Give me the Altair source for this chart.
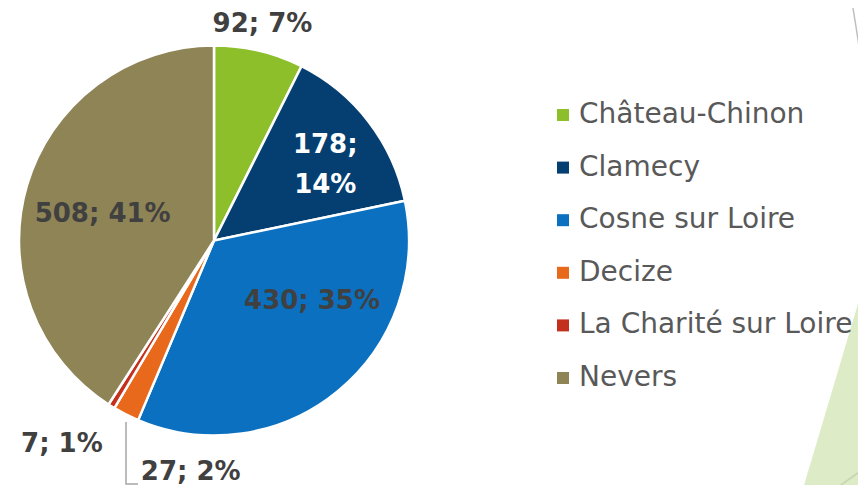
import altair as alt
import pandas as pd

categories = ["Château-Chinon", "Clamecy", "Cosne sur Loire", "Decize", "La Charité sur Loire", "Nevers"]
values = [92, 178, 430, 27, 7, 508]
colors = ["#8DBF2A", "#053F71", "#0A70BF", "#E8691C", "#C3311E", "#8F8456"]

# decorative background (slide theme) in pixel space
tri_x = [793.7, 858]
tri_y = [485, 269]
line1_x = [845, 858]
line1_y = [0, 82]
line2_x = [822, 858]
line2_y = [485, 459]
leader_x = [118, 118, 130]
leader_y = [414, 476, 476]

total = sum(values)
df = pd.DataFrame({
    "category": categories,
    "value": values,
    "idx": list(range(len(values))),
})
df["pct"] = [round(v / total * 100) for v in values]
df["label"] = [f"{v}; {p}%" for v, p in zip(df["value"], df["pct"])]

W, H = 850, 477
CX, CY = 206, 232.5

xs = alt.Scale(domain=[0, W], range=[0, W], nice=False, zero=False)
ys = alt.Scale(domain=[0, H], range=[0, H], nice=False, zero=False)

tri = alt.Chart(pd.DataFrame({"x": tri_x, "y": tri_y, "y2": [485, 485]})).mark_area(
    color="#DDEBC6", clip=True
).encode(
    x=alt.X("x:Q", scale=xs, axis=None),
    y=alt.Y("y:Q", scale=ys, axis=None),
    y2="y2:Q",
)
l1 = alt.Chart(pd.DataFrame({"x": line1_x, "y": line1_y})).mark_line(
    color="#BFBFBF", strokeWidth=1.5, clip=True
).encode(x=alt.X("x:Q", scale=xs, axis=None), y=alt.Y("y:Q", scale=ys, axis=None))
l2 = alt.Chart(pd.DataFrame({"x": line2_x, "y": line2_y})).mark_line(
    color="#C5D3B3", strokeWidth=1.5, clip=True
).encode(x=alt.X("x:Q", scale=xs, axis=None), y=alt.Y("y:Q", scale=ys, axis=None))

base = alt.Chart(df).encode(
    theta=alt.Theta("value:Q", stack=True),
    order=alt.Order("idx:Q"),
)

pie = base.mark_arc(outerRadius=195, stroke="white", strokeWidth=2.5).encode(
    color=alt.Color(
        "category:N",
        scale=alt.Scale(domain=categories, range=colors),
        sort=categories,
        legend=alt.Legend(
            title=None,
            orient="none",
            legendX=541,
            legendY=93,
            symbolType="square",
            symbolSize=144,
            symbolStrokeWidth=0,
            labelFont="DejaVu Sans",
            labelFontSize=28,
            labelColor="#595959",
            labelOffset=2,
            rowPadding=24.6,
            labelLimit=400,
        ),
    ),
    x=alt.value(CX),
    y=alt.value(CY),
)

label_style = {
    0: dict(radius=223, dx=-3, dy=0, color="#404040"),
    1: dict(radius=134, dx=5, dy=-14, color="#FFFFFF"),
    2: dict(radius=115, dx=25, dy=-28, color="#404040"),
    3: dict(radius=240, dx=85, dy=17, color="#404040"),
    4: dict(radius=253, dx=-19, dy=-12, color="#404040"),
    5: dict(radius=115, dx=-1, dy=6, color="#404040"),
}

layers = [tri, l1, l2, pie]
for i, st in label_style.items():
    lab_expr = f"datum.idx == {i} ? datum.label : ''"
    if i == 1:
        lab_expr = f"datum.idx == {i} ? replace(datum.label, '; ', ';\\n') : ''"
    layers.append(
        base.transform_calculate(lab=lab_expr).mark_text(
            radius=st["radius"], dx=st["dx"], dy=st["dy"], color=st["color"],
            font="DejaVu Sans", fontWeight="bold", fontSize=26,
            align="center", baseline="middle", lineBreak="\n", lineHeight=40,
        ).encode(text="lab:N", x=alt.value(CX), y=alt.value(CY))
    )

leader = alt.Chart(pd.DataFrame({"x": leader_x, "y": leader_y, "o": [0, 1, 2]})).mark_line(
    color="#A6A6A6", strokeWidth=1.5
).encode(x=alt.X("x:Q", scale=xs, axis=None), y=alt.Y("y:Q", scale=ys, axis=None), order="o:Q")
layers.append(leader)

chart = alt.layer(*layers).properties(
    width=W, height=H, padding=0, autosize=alt.AutoSizeParams(type="none"), background="white"
).configure_view(stroke=None)

chart.save("out.html", embed_options={"renderer": "svg", "actions": False})
